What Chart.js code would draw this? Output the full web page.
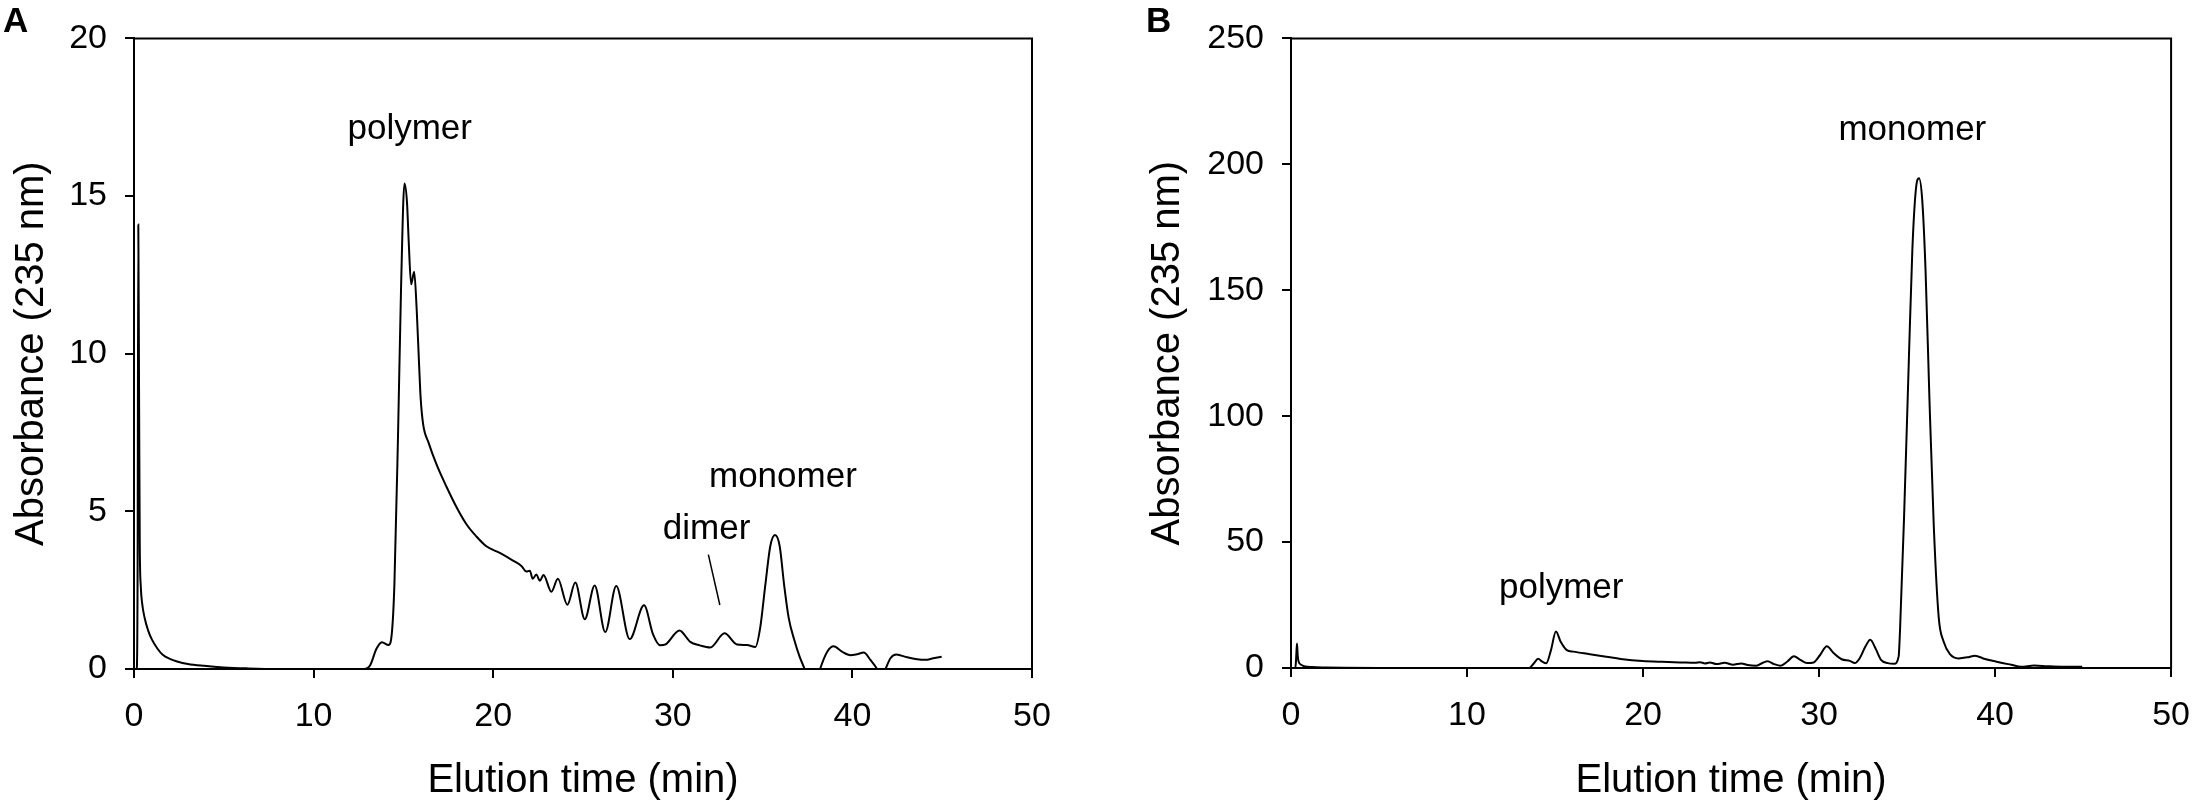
<!DOCTYPE html>
<html>
<head>
<meta charset="utf-8">
<script src="https://cdn.jsdelivr.net/npm/chart.js@4/dist/chart.umd.min.js"></script>
<style>
  html, body { margin: 0; padding: 0; background: #fff; }
  #wrap { position: relative; width: 2208px; height: 808px; }
  #wrap canvas { position: absolute; top: 0; }
</style>
</head>
<body>
<div id="wrap">
  <canvas id="chartA" width="1104" height="808" style="left:0"></canvas>
  <canvas id="chartB" width="1104" height="808" style="left:1104px"></canvas>
</div>
<script>
// panel A: elution time (min) and absorbance
const timeA = [0, 0.15, 0.2, 0.24, 0.28, 0.32, 0.38, 0.45, 0.6, 0.8, 1.0, 1.3, 1.6, 2.0, 2.4, 3.0, 3.9, 5.0, 6.3, 8.0, 10.0, 12.0, 12.8,
  13.15, 13.5, 13.8, 14.17, 14.35, 14.5, 14.7, 14.87, 15.06, 15.2, 15.3, 15.43, 15.6, 15.74, 15.87, 15.96, 16.1, 16.4, 16.85,
  17.4, 17.96, 18.5, 19.07, 19.6, 20.37, 21.1, 21.57, 21.85, 22.04, 22.2, 22.4, 22.6, 22.8, 23.24, 23.6, 24.13, 24.57, 25.1,
  25.65, 26.24, 26.85, 27.6, 28.4, 28.9, 29.3, 29.6, 30.37, 30.97, 31.5, 32.08, 32.88, 33.57, 34.13, 34.6, 34.87, 35.15, 35.43,
  35.69, 35.95, 36.2, 36.45, 36.77, 37.06, 37.34, 37.65, 37.95, 38.2, 38.6, 38.96, 39.42, 39.89, 40.26, 40.63, 41.0, 41.37,
  41.6, 41.84, 42.12, 42.45, 43.05, 43.6, 44.07, 44.5, 44.97];
const absA = [0, 0, 3, 14.1, 9, 4, 2.6, 2.1, 1.6, 1.2, 0.93, 0.65, 0.45, 0.32, 0.24, 0.16, 0.1, 0.05, 0.02, 0, 0, 0, 0,
  0.12, 0.64, 0.85, 0.76, 1.1, 2.7, 7.4, 12.1, 15.4, 14.8, 13.5, 12.2, 12.6, 11.4, 9.7, 8.6, 7.76, 7.18, 6.48,
  5.78, 5.13, 4.6, 4.2, 3.9, 3.68, 3.44, 3.27, 3.09, 3.12, 2.86, 3.0, 2.8, 2.98, 2.45, 2.86, 2.04, 2.74, 1.58,
  2.65, 1.17, 2.63, 0.95, 2.02, 1.1, 0.75, 0.78, 1.22, 0.86, 0.75, 0.68, 1.13, 0.78, 0.76, 0.70, 1.32, 2.66, 3.9,
  4.25, 3.9, 2.66, 1.63, 0.91, 0.39, 0, -0.5, -0.5, 0, 0.55, 0.72, 0.55, 0.44, 0.47, 0.52, 0.29, 0,
  -0.3, 0, 0.34, 0.46, 0.37, 0.31, 0.29, 0.34, 0.39];

// panel B
const timeB = [0, 0.25, 0.3, 0.34, 0.38, 0.43, 0.6, 0.8, 1.2, 2.0, 3.0, 5.0, 13.52, 13.8, 14.04, 14.26, 14.5, 14.77, 15.05,
  15.33, 15.67, 16.04, 16.98, 17.91, 18.85, 19.97, 21.09, 22.21, 22.96, 23.24, 23.52, 23.8, 24.17, 24.64, 25.11, 25.58,
  25.95, 26.42, 26.7, 27.07, 27.45, 27.82, 28.2, 28.57, 28.94, 29.32, 29.69, 30.06, 30.44, 30.81, 31.28, 31.75, 32.03,
  32.31, 32.64, 32.91, 33.21, 33.52, 33.9, 34.27, 34.52, 34.6, 34.83, 35.1, 35.3, 35.5, 35.68, 35.86, 36.05, 36.27, 36.52,
  36.8, 37.08, 37.45, 37.92, 38.48, 38.85, 39.42, 40.16, 40.91, 41.47, 42.22, 42.97, 43.9, 44.95];
const absB = [0, 0, 5, 9.7, 5, 2.6, 1.2, 0.6, 0.35, 0.2, 0.1, 0, 0, 1.9, 3.7, 2.6, 1.9, 7.1, 14.5,
  10.3, 7.1, 6.5, 5.5, 4.5, 3.5, 2.8, 2.45, 2.2, 2.06, 2.32, 1.81, 2.19, 1.55, 2.06, 1.29, 1.81,
  1.16, 0.9, 1.68, 2.71, 1.55, 0.9, 2.58, 4.65, 3.23, 1.94, 2.19, 5.16, 8.6, 6.06, 3.48, 2.84, 1.94,
  3.87, 8.6, 11.2, 7.74, 3.23, 1.94, 1.68, 4.5, 15, 60, 122, 166, 190, 194.5, 186, 158, 107, 56,
  20, 10.4, 5.4, 3.8, 4.3, 4.9, 3.6, 2.4, 1.3, 0.5, 0.98, 0.7, 0.5, 0.5];

const xTicks = [0, 10, 20, 30, 40, 50];
const yTicksA = [0, 5, 10, 15, 20];
const yTicksB = [0, 50, 100, 150, 200, 250];

Chart.defaults.font.family = '"Liberation Sans", Arial, sans-serif';
Chart.defaults.color = "#000";

// box border on top/right, peak labels, panel letter
const decorations = {
  id: "decorations",
  afterDraw(chart, args, opts) {
    const { ctx, chartArea: a, scales: { x, y } } = chart;
    ctx.save();
    ctx.strokeStyle = "#000";
    ctx.lineWidth = 2;
    ctx.beginPath();
    ctx.moveTo(a.left, a.top);
    ctx.lineTo(a.right, a.top);
    ctx.lineTo(a.right, a.bottom);
    ctx.stroke();
    ctx.fillStyle = "#000";
    ctx.font = '35px "Liberation Sans", Arial, sans-serif';
    ctx.textAlign = "center";
    ctx.textBaseline = "alphabetic";
    opts.notes.forEach(n => ctx.fillText(n.text, x.getPixelForValue(n.t), y.getPixelForValue(n.v)));
    ctx.lineWidth = 1.5;
    opts.leaders.forEach(l => {
      ctx.beginPath();
      ctx.moveTo(x.getPixelForValue(l[0]), y.getPixelForValue(l[1]));
      ctx.lineTo(x.getPixelForValue(l[2]), y.getPixelForValue(l[3]));
      ctx.stroke();
    });
    ctx.font = 'bold 35px "Liberation Sans", Arial, sans-serif';
    ctx.textAlign = "left";
    ctx.fillText(opts.panel, opts.panelX, 32);
    ctx.restore();
  },
};

function makeChart(id, times, values, yTicks, cfg) {
  const yMax = yTicks[yTicks.length - 1];
  return new Chart(document.getElementById(id), {
    type: "line",
    data: {
      datasets: [{
        data: times.map((t, i) => ({ x: t, y: values[i] })),
        borderColor: "#000",
        borderWidth: 2,
        pointRadius: 0,
        cubicInterpolationMode: "monotone",
        fill: false,
      }],
    },
    options: {
      responsive: false,
      animation: false,
      devicePixelRatio: 1,
      layout: { padding: { top: 23, right: cfg.padRight, left: 0, bottom: 0 } },
      plugins: {
        legend: { display: false },
        tooltip: { enabled: false },
        decorations: { notes: cfg.notes, leaders: cfg.leaders, panel: cfg.panel, panelX: cfg.panelX },
      },
      scales: {
        x: {
          type: "linear",
          min: 0,
          max: 50,
          afterBuildTicks: s => { s.ticks = xTicks.map(v => ({ value: v })); },
          afterFit: s => { s.height = cfg.xHeight; },
          ticks: { font: { size: 34 }, padding: 18, color: "#000" },
          grid: { drawOnChartArea: false, drawTicks: true, tickLength: 9, color: "#000", lineWidth: 2 },
          border: { display: true, color: "#000", width: 2 },
          title: { display: true, text: "Elution time (min)", font: { size: 40 }, color: "#000", padding: { top: 0, bottom: 3 } },
        },
        y: {
          min: 0,
          max: yMax,
          afterBuildTicks: s => { s.ticks = yTicks.map(v => ({ value: v })); },
          afterFit: s => { s.width = cfg.yWidth; },
          ticks: { font: { size: 34 }, padding: 18, color: "#000" },
          grid: { drawOnChartArea: false, drawTicks: true, tickLength: 9, color: "#000", lineWidth: 2 },
          border: { display: true, color: "#000", width: 2 },
          title: { display: true, text: "Absorbance (235 nm)", font: { size: 40 }, color: "#000", padding: { top: cfg.titlePad, bottom: 0 } },
        },
      },
    },
    plugins: [decorations],
  });
}

document.addEventListener("DOMContentLoaded", function () {
  makeChart("chartA", timeA, absA, yTicksA, {
    yWidth: 134, xHeight: 139, padRight: 72, titlePad: 8, panel: "A", panelX: 3,
    notes: [
      { text: "polymer", t: 15.35, v: 16.82 },
      { text: "monomer", t: 36.13, v: 5.78 },
      { text: "dimer", t: 31.88, v: 4.13 },
    ],
    leaders: [[31.98, 3.63, 32.62, 2.03]],
  });
  makeChart("chartB", timeB, absB, yTicksB, {
    yWidth: 187, xHeight: 140, padRight: 26, titlePad: 40, panel: "B", panelX: 42,
    notes: [
      { text: "monomer", t: 35.3, v: 209.5 },
      { text: "polymer", t: 15.35, v: 27.6 },
    ],
    leaders: [],
  });
});
</script>
</body>
</html>
